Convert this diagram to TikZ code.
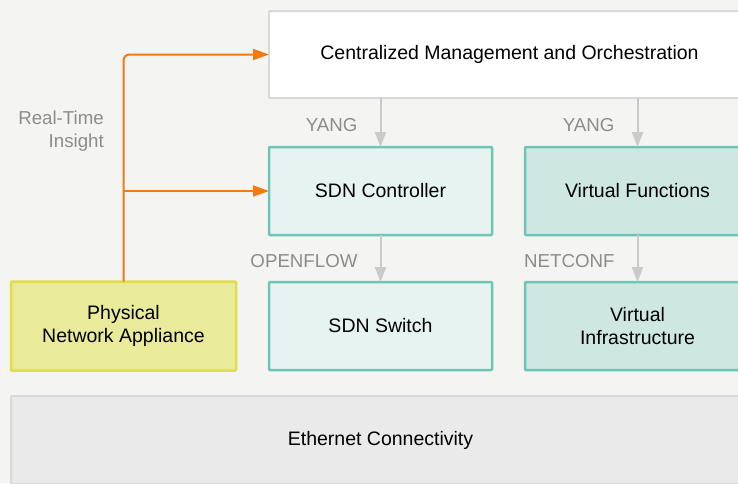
\documentclass[tikz,border=0pt]{standalone}
\usepackage{fontspec}
\setmainfont{Liberation Sans}
\usepackage{tikz}
\usetikzlibrary{positioning,arrows.meta}
\definecolor{NFVbg}{RGB}{244,244,242}
\definecolor{NFVline}{RGB}{217,217,217}
\definecolor{NFVteal}{RGB}{110,196,181}
\definecolor{NFVlight}{RGB}{231,243,241}
\definecolor{NFVmint}{RGB}{206,232,225}
\definecolor{NFVyellow}{RGB}{234,234,155}
\definecolor{NFVolive}{RGB}{222,222,72}
\definecolor{NFVeth}{RGB}{234,234,234}
\definecolor{NFVorange}{RGB}{242,122,18}
\definecolor{NFVarrow}{RGB}{202,202,202}
\definecolor{NFVtext}{RGB}{140,140,140}

\begin{document}
\begin{tikzpicture}[
  x=1pt,y=-1pt,
  box/.style={rectangle,rounded corners=1pt,outer sep=0pt,align=center,font=\fontsize{19.5}{23.5}\selectfont,minimum height=88pt},
  mgmt/.style={box,draw=NFVline,fill=white,line width=2pt,minimum width=481pt,minimum height=87pt},
  sdn/.style={box,draw=NFVteal,fill=NFVlight,line width=2.5pt,minimum width=223pt},
  virt/.style={box,draw=NFVteal,fill=NFVmint,line width=2.5pt,minimum width=225pt},
  appl/.style={box,draw=NFVolive,fill=NFVyellow,line width=2.5pt,minimum width=225pt,minimum height=89pt},
  eth/.style={box,draw=NFVline,fill=NFVeth,line width=2pt,minimum width=739pt},
  lbl/.style={inner sep=0pt,text=NFVtext,font=\fontsize{18.7}{22.5}\selectfont,align=right},
  flow/.style={-{Triangle[length=15pt,width=11pt]},line width=2pt,draw=NFVarrow},
  insight/.style={-{Triangle[length=16pt,width=11pt]},line width=2pt,draw=NFVorange,rounded corners=6pt},
]
\fill[NFVbg] (0,0) rectangle (738,483);
\useasboundingbox (0,0) rectangle (738,483);
\clip (0,0) rectangle (738,483);

% Middle row: controllers
\node[sdn] (ctrl) at (380.5,191) {SDN Controller};
\node[virt,right=33pt of ctrl] (vfunc) {Virtual Functions};

% Top: orchestration
\node[mgmt,above=49pt of ctrl,xshift=129pt] (mgmt) {Centralized Management and Orchestration};

% Lower row: devices
\node[sdn,below=47pt of ctrl] (switch) {SDN Switch};
\node[virt,below=47pt of vfunc] (vinfra) {Virtual\\Infrastructure};
\node[appl,left=33pt of switch] (phys) {Physical\\Network Appliance};

% Bottom: transport
\node[eth,below=26pt of switch] (ether) {Ethernet Connectivity};

% Arrows
\draw[flow] (mgmt.south -| ctrl) -- node[lbl,left=22pt,yshift=-3pt] {YANG} (ctrl);
\draw[flow] (mgmt.south -| vfunc) -- node[lbl,left=22pt,yshift=-3pt] {YANG} (vfunc);
\draw[flow] (ctrl) -- node[lbl,left=22pt,yshift=-3pt] {OPENFLOW} (switch);
\draw[flow] (vfunc) -- node[lbl,left=22pt,yshift=-3pt] {NETCONF} (vinfra);
\draw[insight] (phys.north) |- (mgmt.west);
\draw[insight] (phys.north |- ctrl.west) -- (ctrl.west);
\node[lbl,anchor=east] (rt) at (104,131) {Real-Time\\Insight};

\end{tikzpicture}
\end{document}
